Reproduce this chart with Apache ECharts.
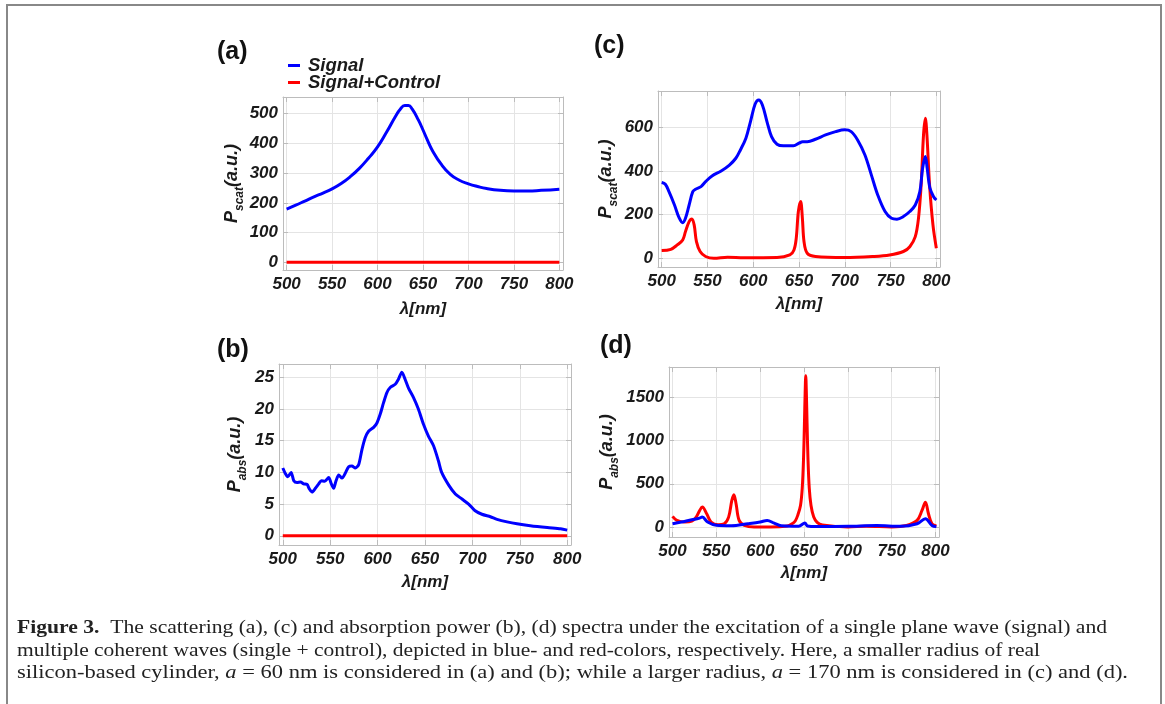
<!DOCTYPE html>
<html>
<head>
<meta charset="utf-8">
<script src="https://cdn.jsdelivr.net/npm/echarts@6/dist/echarts.min.js"></script>
<style>
  html, body { margin: 0; padding: 0; background: #fff; width: 1165px; height: 704px; overflow: hidden; }
  #frame { position: absolute; left: 6px; top: 4px; width: 1156px; height: 760px; border: 2px solid #888; box-sizing: border-box; }
  #chart { position: absolute; left: 0; top: 0; width: 1165px; height: 704px; }
  #caption { position: absolute; left: 17px; top: 616px; font-family: 'Liberation Serif', serif; font-size: 19.5px; color: #222; }
  .ln { height: 22.5px; line-height: 22.5px; white-space: nowrap; }
  .ln span { display: inline-block; transform-origin: 0 50%; }
</style>
</head>
<body>
<div id="frame"></div>
<div id="chart"></div>
<div id="caption">
  <div class="ln"><span data-w="1090"><b>Figure 3.</b>&nbsp;&nbsp;The scattering (a), (c) and absorption power (b), (d) spectra under the excitation of a single plane wave (signal) and</span></div>
  <div class="ln"><span data-w="1023">multiple coherent waves (single + control), depicted in blue- and red-colors, respectively. Here, a smaller radius of real</span></div>
  <div class="ln"><span data-w="1111">silicon-based cylinder, <i>a</i> = 60 nm is considered in (a) and (b); while a larger radius, <i>a</i> = 170 nm is considered in (c) and (d).</span></div>
</div>
<script>
// wavelength in nm, power in a.u.
const seriesNames = ['Signal', 'Signal+Control'];

// (a) scattering, a = 60 nm
const aSignal = [[500,179],[510,192],[520,206],[530,220],[540,233],[550,247],[560,265],[570,288],[580,316],[590,350],[600,388],[610,438],[620,492],[625,515],[630,527],[634,527],[638,516],[645,478],[650,445],[655,410],[660,378],[670,330],[680,296],[690,276],[700,264],[710,255],[720,248],[735,242],[750,240],[765,240],[780,242],[800,246]];
const aControl = [[500,0],[800,0]];

// (b) absorption, a = 60 nm
const bSignal = [[500,10.7],[502.8,9.8],[505.3,9.3],[508.8,10.0],[511.6,8.7],[515,8.4],[518.6,8.5],[522,8.2],[525.6,8.1],[528,7.4],[530.9,6.9],[534.4,7.5],[537.9,8.2],[540.7,8.7],[544.2,8.6],[548.4,9.2],[551.2,8.2],[553.7,7.5],[556,8.6],[559,9.6],[562.5,9.1],[566,9.9],[569.5,10.9],[573,11.0],[576.5,10.7],[580,11.2],[583.5,13.6],[587,15.5],[590.5,16.5],[595.8,17.1],[599.3,17.8],[602.8,19.2],[606.3,21.0],[609.8,22.6],[613.3,23.4],[618.6,23.9],[622,24.7],[625.6,25.8],[629,24.7],[632.6,23.3],[637.9,21.8],[643,20.0],[648.4,17.6],[653.7,15.7],[659,14.2],[664.2,11.8],[667.6,10.0],[675,8.0],[682,6.6],[689,5.8],[696,5.0],[702.5,4.0],[710,3.4],[719,3.0],[726,2.6],[736.6,2.2],[747,1.9],[761,1.6],[779,1.3],[793,1.1],[800,0.9]];
const bControl = [[500,0],[800,0]];

// (c) scattering, a = 170 nm
const cSignal = [[500,347],[504,339],[508,305],[514,244],[519,186],[523,163],[526,183],[530,244],[534,305],[537,316],[543,328],[548,351],[555,377],[565,400],[574,427],[581,458],[586,496],[592,550],[597,626],[602,705],[606,725],[610,702],[615,626],[620,557],[626,522],[633,515],[644,515],[650,527],[654,534],[659,534],[668,545],[679,565],[690,580],[700,588],[707,580],[714,542],[722,473],[729,382],[736,290],[744,214],[751,183],[757,179],[764,191],[771,214],[777,244],[782,305],[785,412],[788,466],[790,412],[793,321],[797,282],[800,267]];
const cControl = [[500,35],[510,41],[517,61],[523,84],[526,122],[530,168],[533,180],[535.5,153],[538,76],[542,31],[548,8],[557,0],[572,5],[590,2],[626,3],[640,15],[644.5,38],[647,92],[649.3,214],[651.8,260],[653.7,183],[655.5,76],[659,23],[668,8],[700,3],[731,8],[749,15],[764,31],[771,53],[777,99],[780.5,183],[783.4,336],[786,565],[788,641],[789.7,565],[792.6,336],[796.3,153],[800,46]];

// (d) absorption, a = 170 nm
const dSignal = [[500,38],[510,58],[522,85],[530,100],[534,115],[540,58],[550,20],[567,15],[586,38],[600,58],[608,77],[616,45],[624,15],[644,10],[651,46],[654,12],[664,5],[700,8],[733,19],[760,8],[779,38],[788.5,96],[796,19],[801,5]];
const dControl = [[500,123],[505,77],[514,58],[522,69],[527,115],[531,192],[534,231],[539,154],[544,58],[552,27],[559,38],[564,115],[567.7,308],[570,373],[572.5,269],[576,77],[582,19],[593,0],[612,0],[631,12],[636,35],[640,70],[643,140],[646,250],[648,450],[649.5,800],[650.5,1200],[651.3,1550],[652,1750],[652.7,1550],[653.5,1200],[654.5,800],[656,450],[658,250],[661,120],[665,55],[671,25],[700,2],[721,8],[750,2],[767,19],[779,77],[784.6,192],[788.5,288],[792,154],[796,38],[801,12]];

const panels = [
  { label: '(a)', labelPos: [217, 40], box: [283, 97, 280, 173], x: [496, 804], y: [-26, 556], yStep: 100, sub: 'scat', yGap: 36, xGap: 31, sig: aSignal, ctl: aControl, smooth: 0.5 },
  { label: '(b)', labelPos: [217, 338], box: [279, 364, 292, 181], x: [496, 804], y: [-1.45, 27.1], yStep: 5, sub: 'abs', yGap: 30, xGap: 29, sig: bSignal, ctl: bControl, smooth: 0.25 },
  { label: '(c)', labelPos: [594, 34], box: [658, 91, 282, 176], x: [496, 804], y: [-40, 766], yStep: 200, sub: 'scat', yGap: 38, xGap: 29, sig: cSignal, ctl: cControl, smooth: 0.35 },
  { label: '(d)', labelPos: [600, 334], box: [669, 367, 270, 170], x: [496, 804], y: [-115, 1850], yStep: 500, sub: 'abs', yGap: 48, xGap: 28, sig: dSignal, ctl: dControl, smooth: 0.35 }
];

const FONT = 'Liberation Sans';
const frameColor = '#bcbcbc';
const gridColor = '#e4e4e4';
const tickFont = { fontFamily: FONT, fontWeight: 'bold', fontStyle: 'italic', fontSize: 17, color: '#1a1a1a' };

const chart = echarts.init(document.getElementById('chart'), null, { renderer: 'canvas' });

const grids = [], xAxes = [], yAxes = [], series = [], graphics = [];

panels.forEach((p, i) => {
  grids.push({ left: p.box[0], top: p.box[1], width: p.box[2], height: p.box[3] });

  const common = {
    gridIndex: i,
    type: 'value',
    axisLine: { show: true, onZero: false, lineStyle: { color: frameColor, width: 1 } },
    axisTick: { inside: true, length: 5, lineStyle: { color: frameColor } }
  };
  // ticks stay on round values: step forced through min/maxInterval, not interval
  const xScale = { min: p.x[0], max: p.x[1], splitNumber: 6, minInterval: 50, maxInterval: 50 };
  const yScale = { min: p.y[0], max: p.y[1], splitNumber: 5, minInterval: p.yStep, maxInterval: p.yStep };

  xAxes.push({
    ...common, ...xScale, position: 'bottom',
    splitLine: { show: true, lineStyle: { color: gridColor } },
    axisLabel: { ...tickFont, margin: 6, showMinLabel: false, showMaxLabel: false, formatter: v => (Math.abs(v % 50) < 1e-9 ? String(v) : '') },
    name: 'λ[nm]', nameLocation: 'middle', nameGap: p.xGap,
    nameTextStyle: { fontFamily: FONT, fontWeight: 'bold', fontStyle: 'italic', fontSize: 17, color: '#1a1a1a' }
  });
  xAxes.push({
    ...common, ...xScale, position: 'top',
    splitLine: { show: false }, axisLabel: { show: false }
  });

  yAxes.push({
    ...common, ...yScale, position: 'left',
    splitLine: { show: true, lineStyle: { color: gridColor } },
    axisLabel: { ...tickFont, margin: 5, showMinLabel: false, showMaxLabel: false, formatter: v => (Math.abs(v % p.yStep) < 1e-9 ? String(v) : '') },
    name: '{b|P}{s|' + p.sub + '}{b|(a.u.)}', nameLocation: 'middle', nameGap: p.yGap, nameRotate: 90,
    nameTextStyle: {
      rich: {
        b: { fontFamily: FONT, fontWeight: 'bold', fontStyle: 'italic', fontSize: 18, color: '#1a1a1a', lineHeight: 28, verticalAlign: 'middle' },
        s: { fontFamily: FONT, fontWeight: 'bold', fontStyle: 'italic', fontSize: 12, color: '#1a1a1a', lineHeight: 28, verticalAlign: 'bottom' }
      }
    }
  });
  yAxes.push({
    ...common, ...yScale, position: 'right',
    splitLine: { show: false }, axisLabel: { show: false }
  });

  // red drawn first, blue on top
  series.push({
    name: seriesNames[1], type: 'line', xAxisIndex: 2 * i, yAxisIndex: 2 * i,
    data: p.ctl, showSymbol: false, smooth: p.smooth,
    lineStyle: { color: '#ff0000', width: 3 }, itemStyle: { color: '#ff0000' }
  });
  series.push({
    name: seriesNames[0], type: 'line', xAxisIndex: 2 * i, yAxisIndex: 2 * i,
    data: p.sig, showSymbol: false, smooth: p.smooth,
    lineStyle: { color: '#0000ff', width: 3 }, itemStyle: { color: '#0000ff' }
  });

  graphics.push({
    type: 'text', left: p.labelPos[0], top: p.labelPos[1],
    style: { text: p.label, font: 'bold 25px "Liberation Sans"', fill: '#111' }
  });
});

chart.setOption({
  animation: false,
  grid: grids,
  xAxis: xAxes,
  yAxis: yAxes,
  series: series,
  graphic: graphics,
  legend: {
    data: seriesNames,
    orient: 'vertical',
    left: 283, top: 51,
    itemGap: -2,
    itemWidth: 12, itemHeight: 3,
    icon: 'rect',
    selectedMode: false,
    textStyle: { fontFamily: FONT, fontWeight: 'bold', fontStyle: 'italic', fontSize: 18.5, color: '#1a1a1a', lineHeight: 17, padding: [0, 0, 0, 3] }
  }
});

// stretch caption lines to the widths of the printed caption
document.querySelectorAll('#caption span').forEach(el => {
  const target = +el.dataset.w;
  const w = el.getBoundingClientRect().width;
  if (w > 0) el.style.transform = 'scaleX(' + (target / w) + ')';
});
</script>
</body>
</html>
